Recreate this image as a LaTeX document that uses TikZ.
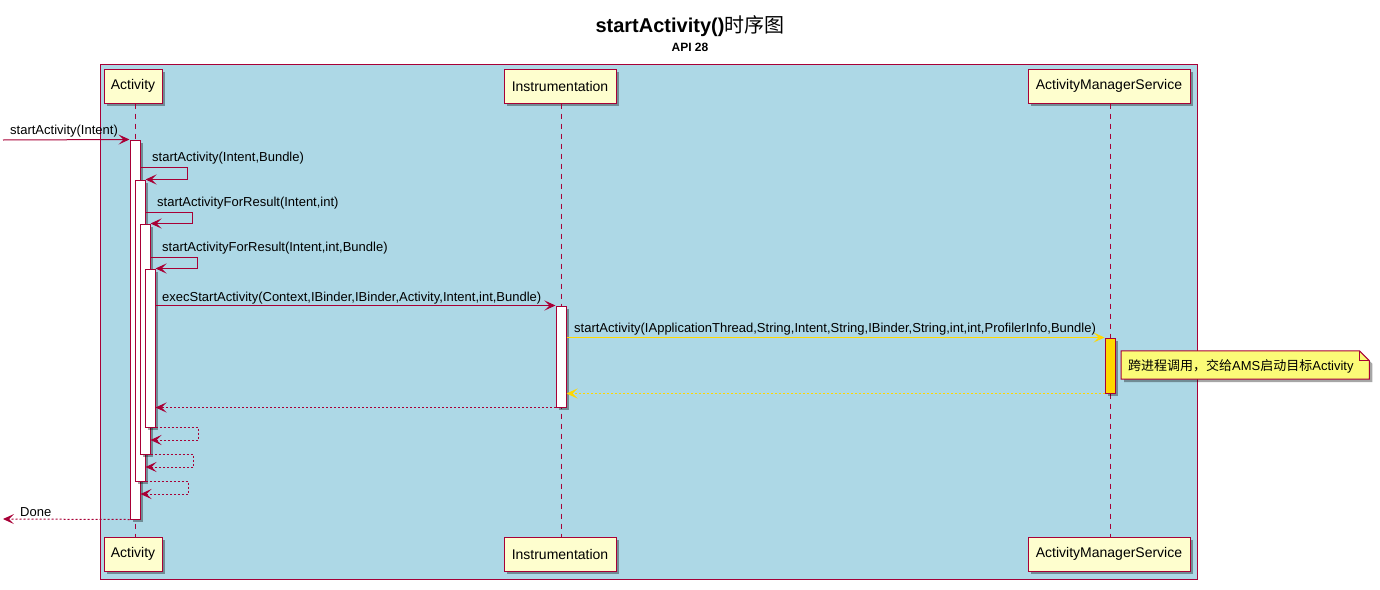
\documentclass[tikz,border=0pt]{standalone}
\usepackage{fontspec}
\setmainfont{Liberation Sans}
\newfontfamily\cjk{Noto Sans CJK SC}
\usetikzlibrary{arrows.meta,shadows}

\begin{document}
\begin{tikzpicture}[x=1pt,y=-1pt,>={Stealth[length=11pt,width=10pt,inset=5pt]}]

\definecolor{umlred}{HTML}{A80036}
\definecolor{umlbox}{HTML}{FEFECE}
\definecolor{umlnote}{HTML}{FBFB77}
\definecolor{umlgold}{HTML}{FFD700}
\definecolor{umlblue}{HTML}{ADD8E6}

\tikzset{
    participant/.style={
        draw=umlred, fill=umlbox, line width=1pt,
        minimum height=34pt, inner sep=0pt,
        font=\fontsize{14}{16}\selectfont,
        drop shadow={shadow xshift=3pt, shadow yshift=-3pt, fill=black, opacity=0.35}
    },
    actbar/.style={
        draw=umlred, fill=#1, line width=1pt,
        minimum width=10pt, inner sep=0pt,
        drop shadow={shadow xshift=3pt, shadow yshift=-3pt, fill=black, opacity=0.35}
    },
    actbar/.default=white,
    lifeline/.style={draw=umlred, line width=1pt, dash pattern=on 5pt off 5pt},
    msg/.style={draw=umlred, line width=1pt, ->},
    reply/.style={msg, dash pattern=on 2pt off 2pt},
    msglabel/.style={anchor=west, inner sep=0pt, font=\fontsize{13}{15}\selectfont}
}

\useasboundingbox (0,0) rectangle (1380,589);

% Title
\node[font=\bfseries\fontsize{20}{23}\selectfont] (title) at (690,26) {startActivity(){\cjk\mdseries 时序图}};
\node[font=\bfseries\fontsize{12}{14}\selectfont] (api) at (690,47) {API 28};

% Box
\draw[draw=umlred, fill=umlblue, line width=1pt] (100,64) rectangle (1197,579);

% Participants
\node[participant, minimum width=58pt] (act) at (133,86) {Activity};
\node[participant, minimum width=112pt] (ins) at (560,86) {Instrumentation};
\node[participant, minimum width=162pt] (ams) at (1109,86) {ActivityManagerService};
\node[participant, minimum width=58pt] (actB) at (133,554) {Activity};
\node[participant, minimum width=112pt] (insB) at (560,554) {Instrumentation};
\node[participant, minimum width=162pt] (amsB) at (1109,554) {ActivityManagerService};

% Lifelines
\draw[lifeline] ([xshift=2pt]act.south) -- ([xshift=2pt]actB.north);
\draw[lifeline] ([xshift=1pt]ins.south) -- ([xshift=1pt]insB.north);
\draw[lifeline] ([xshift=1pt]ams.south) -- ([xshift=1pt]amsB.north);

% Activations
\node[actbar, minimum height=379pt] (a1) at (135,329.5) {};
\node[actbar, minimum height=301pt] (a2) at (140,330.5) {};
\node[actbar, minimum height=230pt] (a3) at (145,339) {};
\node[actbar, minimum height=158pt] (a4) at (150,348) {};
\node[actbar, minimum height=101pt] (i1) at (561,356.5) {};
\node[actbar=umlgold, minimum height=55pt] (s1) at (1110,365.5) {};

% Messages
\coordinate (caller) at (3,140);
\draw[msg] (caller) -- (a1.north west);
\node[msglabel] (l1) at (10,131) {startActivity(Intent)};

\coordinate (m2) at (0,167);
\draw[msg] (a1.east |- m2) -- ++(47,0) |- (a2.north east);
\node[msglabel] (l2) at (152,158) {startActivity(Intent,Bundle)};

\coordinate (m3) at (0,212);
\draw[msg] (a2.east |- m3) -- ++(47,0) |- (a3.north east);
\node[msglabel] (l3) at (157,203.5) {startActivityForResult(Intent,int)};

\coordinate (m4) at (0,257);
\draw[msg] (a3.east |- m4) -- ++(47,0) |- (a4.north east);
\node[msglabel] (l4) at (162,248.5) {startActivityForResult(Intent,int,Bundle)};

\draw[msg] (a4.east |- i1.north) -- (i1.north west);
\node[msglabel] (l5) at (162,298) {execStartActivity(Context,IBinder,IBinder,Activity,Intent,int,Bundle)};

\draw[msg, draw=umlgold] (i1.east |- s1.north) -- (s1.north west);
\node[msglabel] (l6) at (574,329) {startActivity(IApplicationThread,String,Intent,String,IBinder,String,int,int,ProfilerInfo,Bundle)};

% Note
\node[anchor=west, minimum width=248pt, minimum height=28pt, inner sep=0pt] (note) at (1121,365) {};
\fill[black, opacity=0.35] ([shift={(3pt,-3pt)}]note.south west) -- ([shift={(3pt,-3pt)}]note.north west)
    -- ([shift={(-7pt,-3pt)}]note.north east) -- ([shift={(3pt,-13pt)}]note.north east)
    -- ([shift={(3pt,-3pt)}]note.south east) -- cycle;
\draw[draw=umlred, fill=umlnote, line width=1pt] (note.south west) -- (note.north west)
    -- ([xshift=-10pt]note.north east) -- ([yshift=-10pt]note.north east)
    -- (note.south east) -- cycle;
\draw[draw=umlred, line width=1pt] ([xshift=-10pt]note.north east) |- ([yshift=-10pt]note.north east);
\node[msglabel, xshift=7pt, yshift=-1pt] (notetext) at (note.west)
      {{\cjk 跨进程调用，交给}AMS{\cjk 启动目标}Activity};

% Replies
\draw[reply, draw=umlgold] (s1.south west) -- (i1.east |- s1.south);
\draw[reply] (i1.south west) -- (a4.east |- i1.south);

\coordinate (r4) at (0,440);
\draw[reply] (a4.south east) -- ++(43,0) |- (a3.east |- r4);
\coordinate (r3) at (0,467);
\draw[reply] (a3.south east) -- ++(43,0) |- (a2.east |- r3);
\coordinate (r2) at (0,494);
\draw[reply] (a2.south east) -- ++(43,0) |- (a1.east |- r2);

\coordinate (callerB) at (3,519);
\draw[reply] (a1.south west) -- (callerB);
\node[msglabel] (l7) at (20,512) {Done};

\end{tikzpicture}
\end{document}
